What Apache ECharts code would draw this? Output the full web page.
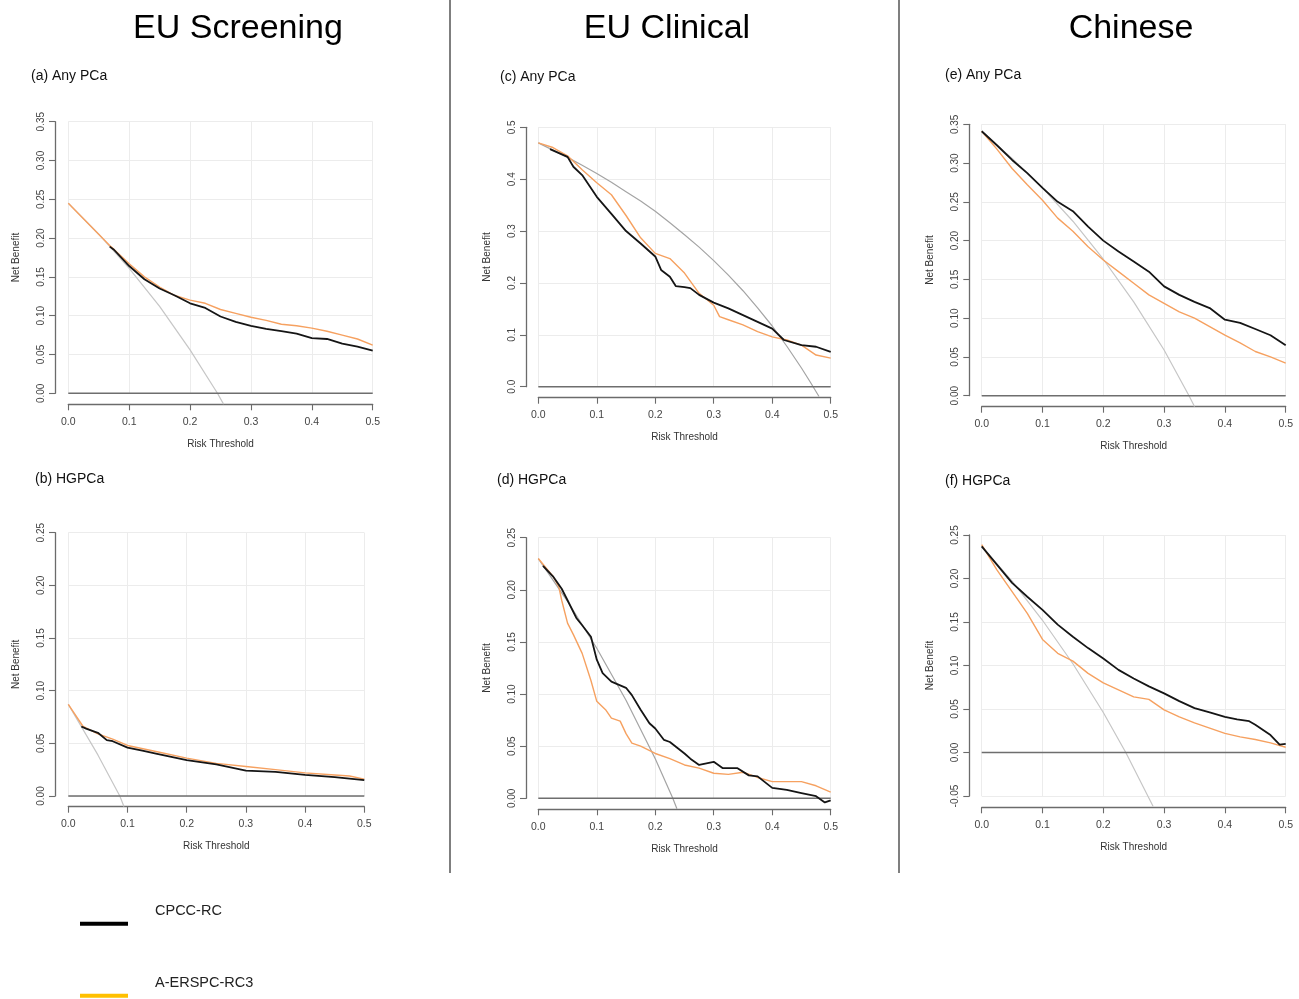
<!DOCTYPE html>
<html>
<head>
<meta charset="utf-8">
<script src="https://cdn.jsdelivr.net/npm/echarts@6/dist/echarts.min.js"></script>
<style>
html,body{margin:0;padding:0;background:#fff;}
#chart{width:1299px;height:999px;}
</style>
</head>
<body>
<div id="chart"></div>
<script>
// ---------------- DATA ----------------
const xTicks = [0, 0.1, 0.2, 0.3, 0.4, 0.5];
const yTicksA = [0, 0.05, 0.10, 0.15, 0.20, 0.25, 0.30, 0.35];
const yTicksB = [0, 0.05, 0.10, 0.15, 0.20, 0.25];
const yTicksC = [0, 0.1, 0.2, 0.3, 0.4, 0.5];
const yTicksD = [0, 0.05, 0.10, 0.15, 0.20, 0.25];
const yTicksE = [0, 0.05, 0.10, 0.15, 0.20, 0.25, 0.30, 0.35];
const yTicksF = [-0.05, 0, 0.05, 0.10, 0.15, 0.20, 0.25];

const columnTitles = ['EU Screening', 'EU Clinical', 'Chinese'];
const panelLabels = ['(a) Any PCa', '(b) HGPCa', '(c) Any PCa', '(d) HGPCa', '(e) Any PCa', '(f) HGPCa'];
const modelNames = ['CPCC-RC', 'A-ERSPC-RC3'];

// treat none (reference line)
const noneX = [0, 0.5];
const noneNB = [0, 0];

// (a) EU Screening, Any PCa
const aCpccX = [0.068,0.075,0.1,0.125,0.15,0.175,0.2,0.225,0.25,0.275,0.3,0.325,0.35,0.375,0.4,0.425,0.45,0.475,0.5];
const aCpccY = [0.189,0.185,0.164,0.147,0.135,0.126,0.116,0.110,0.099,0.092,0.087,0.083,0.080,0.077,0.071,0.070,0.064,0.060,0.055];
const aErsX = [0,0.07,0.1,0.125,0.15,0.175,0.2,0.225,0.25,0.275,0.3,0.325,0.35,0.375,0.4,0.425,0.45,0.475,0.5];
const aErsY = [0.245,0.189,0.167,0.150,0.137,0.126,0.120,0.116,0.108,0.103,0.098,0.094,0.089,0.087,0.084,0.080,0.075,0.070,0.062];
const aAllX = [0,0.05,0.1,0.15,0.2,0.245,0.255];
const aAllY = [0.245,0.205,0.161,0.112,0.056,0,-0.014];

// (b) EU Screening, HGPCa
const bCpccX = [0.022,0.03,0.05,0.065,0.075,0.1,0.125,0.15,0.2,0.25,0.3,0.35,0.4,0.45,0.5];
const bCpccY = [0.066,0.064,0.060,0.053,0.052,0.046,0.043,0.040,0.034,0.030,0.024,0.023,0.020,0.018,0.015];
const bErsX = [0,0.025,0.05,0.075,0.1,0.15,0.2,0.25,0.3,0.35,0.4,0.45,0.475,0.5];
const bErsY = [0.087,0.066,0.059,0.054,0.048,0.042,0.036,0.031,0.028,0.025,0.022,0.020,0.019,0.016];
const bAllX = [0,0.05,0.087,0.094];
const bAllY = [0.087,0.039,0,-0.010];

// (c) EU Clinical, Any PCa
const cCpccX = [0.02,0.05,0.06,0.075,0.1,0.125,0.15,0.175,0.2,0.21,0.225,0.235,0.25,0.26,0.275,0.3,0.325,0.35,0.375,0.4,0.42,0.45,0.475,0.5];
const cCpccY = [0.458,0.443,0.424,0.408,0.366,0.333,0.300,0.276,0.251,0.225,0.212,0.194,0.192,0.190,0.177,0.162,0.151,0.138,0.125,0.112,0.090,0.080,0.077,0.067];
const cErsX = [0,0.025,0.05,0.075,0.1,0.125,0.15,0.175,0.2,0.225,0.25,0.275,0.3,0.31,0.325,0.35,0.375,0.4,0.425,0.45,0.475,0.5];
const cErsY = [0.470,0.461,0.445,0.418,0.393,0.370,0.330,0.287,0.257,0.247,0.219,0.180,0.157,0.135,0.129,0.119,0.106,0.096,0.090,0.080,0.061,0.055];
const cAllX = [0,0.025,0.05,0.075,0.1,0.125,0.15,0.175,0.2,0.225,0.25,0.275,0.3,0.325,0.35,0.375,0.4,0.425,0.45,0.465,0.48];
const cAllY = [0.470,0.456,0.442,0.427,0.411,0.394,0.376,0.358,0.338,0.316,0.293,0.269,0.243,0.215,0.185,0.152,0.117,0.078,0.036,0.009,-0.019];

// (d) EU Clinical, HGPCa
const dCpccX = [0.008,0.025,0.04,0.05,0.065,0.075,0.09,0.1,0.11,0.125,0.15,0.16,0.175,0.19,0.2,0.215,0.225,0.25,0.26,0.275,0.3,0.315,0.34,0.36,0.375,0.4,0.425,0.45,0.475,0.49,0.5];
const dCpccY = [0.223,0.213,0.201,0.190,0.173,0.166,0.155,0.133,0.120,0.112,0.106,0.099,0.085,0.072,0.067,0.056,0.054,0.043,0.038,0.032,0.035,0.029,0.029,0.022,0.021,0.010,0.008,0.005,0.002,-0.004,-0.002];
const dErsX = [0,0.025,0.035,0.04,0.05,0.06,0.075,0.09,0.1,0.115,0.125,0.14,0.15,0.16,0.175,0.2,0.225,0.25,0.275,0.3,0.325,0.35,0.375,0.4,0.425,0.45,0.475,0.5];
const dErsY = [0.230,0.213,0.203,0.190,0.168,0.157,0.139,0.113,0.093,0.085,0.077,0.074,0.062,0.053,0.050,0.043,0.038,0.032,0.029,0.024,0.023,0.025,0.020,0.016,0.016,0.016,0.012,0.006];
const dAllX = [0,0.05,0.1,0.15,0.2,0.23,0.237];
const dAllY = [0.230,0.189,0.144,0.094,0.038,0,-0.010];

// (e) Chinese, Any PCa
const eCpccX = [0,0.025,0.05,0.075,0.1,0.125,0.15,0.175,0.2,0.225,0.25,0.275,0.3,0.325,0.35,0.375,0.4,0.425,0.45,0.475,0.5];
const eCpccY = [0.341,0.323,0.304,0.287,0.268,0.250,0.238,0.218,0.200,0.186,0.173,0.160,0.141,0.130,0.121,0.113,0.098,0.094,0.086,0.078,0.065];
const eErsX = [0,0.025,0.05,0.075,0.1,0.125,0.15,0.175,0.2,0.225,0.25,0.275,0.3,0.325,0.35,0.375,0.4,0.425,0.45,0.475,0.5];
const eErsY = [0.341,0.318,0.293,0.272,0.252,0.229,0.212,0.192,0.175,0.160,0.145,0.130,0.119,0.108,0.100,0.089,0.078,0.068,0.057,0.050,0.042];
const eAllX = [0,0.05,0.1,0.15,0.2,0.25,0.3,0.341,0.35];
const eAllY = [0.341,0.306,0.268,0.225,0.176,0.121,0.059,0,-0.014];

// (f) Chinese, HGPCa
const fCpccX = [0,0.025,0.05,0.075,0.1,0.125,0.15,0.175,0.2,0.225,0.25,0.275,0.3,0.325,0.35,0.375,0.4,0.42,0.44,0.45,0.475,0.49,0.5];
const fCpccY = [0.237,0.216,0.195,0.179,0.164,0.147,0.133,0.120,0.108,0.095,0.085,0.076,0.068,0.059,0.051,0.046,0.041,0.038,0.036,0.032,0.020,0.009,0.010];
const fErsX = [0,0.025,0.05,0.075,0.1,0.125,0.15,0.175,0.2,0.225,0.25,0.275,0.3,0.325,0.35,0.375,0.4,0.425,0.45,0.475,0.5];
const fErsY = [0.239,0.210,0.185,0.160,0.130,0.114,0.105,0.091,0.080,0.072,0.064,0.061,0.049,0.041,0.034,0.028,0.022,0.018,0.015,0.011,0.006];
const fAllX = [0,0.05,0.1,0.15,0.2,0.237,0.282];
const fAllY = [0.237,0.197,0.152,0.102,0.046,0,-0.062];

// ---------------- LAYOUT / STYLE ----------------
const FONT = "'Liberation Sans', Arial, sans-serif";
const panels = [
  {yTicks:yTicksA, dec:2, cx:aCpccX, cy:aCpccY, ex:aErsX, ey:aErsY, gx:aAllX, gy:aAllY, gray:'#c6c6c6',
   box:{l:68.3,t:121.7,r:372.7,b:393.3}, xOff:11, yOff:13.3},
  {yTicks:yTicksB, dec:2, cx:bCpccX, cy:bCpccY, ex:bErsX, ey:bErsY, gx:bAllX, gy:bAllY, gray:'#c6c6c6',
   box:{l:68.3,t:532.7,r:364.3,b:796}, xOff:10.7, yOff:13.3},
  {yTicks:yTicksC, dec:1, cx:cCpccX, cy:cCpccY, ex:cErsX, ey:cErsY, gx:cAllX, gy:cAllY, gray:'#a4a4a4',
   box:{l:538.3,t:127.3,r:830.7,b:386.7}, xOff:11, yOff:12.3},
  {yTicks:yTicksD, dec:2, cx:dCpccX, cy:dCpccY, ex:dErsX, ey:dErsY, gx:dAllX, gy:dAllY, gray:'#a4a4a4',
   box:{l:538.3,t:537.7,r:830.7,b:798.3}, xOff:11, yOff:12.3},
  {yTicks:yTicksE, dec:2, cx:eCpccX, cy:eCpccY, ex:eErsX, ey:eErsY, gx:eAllX, gy:eAllY, gray:'#c6c6c6',
   box:{l:981.7,t:124.3,r:1285.7,b:395.7}, xOff:11, yOff:12.4},
  {yTicks:yTicksF, dec:2, cx:fCpccX, cy:fCpccY, ex:fErsX, ey:fErsY, gx:fAllX, gy:fAllY, gray:'#c6c6c6',
   box:{l:981.7,t:535,r:1285.7,b:796}, xOff:11.3, yOff:12.4}
];

const zip = (xs, ys) => xs.map((x, i) => [x, ys[i]]);
const axisColor = '#6b6b6b';

const grids = [], xAxes = [], yAxes = [], series = [];
panels.forEach((p, i) => {
  grids.push({left:p.box.l, top:p.box.t, width:p.box.r - p.box.l, height:p.box.b - p.box.t, containLabel:false});
  xAxes.push({
    type:'value', gridIndex:i, min:xTicks[0], max:xTicks[xTicks.length-1], interval:xTicks[1]-xTicks[0],
    offset:p.xOff, name:'Risk Threshold', nameLocation:'middle', nameGap:35,
    nameTextStyle:{fontFamily:FONT, fontSize:10, color:'#333'},
    axisLine:{show:true, onZero:false, lineStyle:{color:axisColor, width:1.3}},
    axisTick:{show:true, length:6, lineStyle:{color:axisColor, width:1.1}},
    axisLabel:{fontFamily:FONT, fontSize:10.5, color:'#444', margin:12, formatter:v => v.toFixed(1)},
    splitLine:{show:true, lineStyle:{color:'#ececec', width:1}}
  });
  const yt = p.yTicks;
  yAxes.push({
    type:'value', gridIndex:i, min:yt[0], max:yt[yt.length-1], interval:+(yt[1]-yt[0]).toFixed(4),
    offset:p.yOff, name:'Net Benefit', nameLocation:'middle', nameGap:34,
    nameTextStyle:{fontFamily:FONT, fontSize:10, color:'#333'},
    axisLine:{show:true, onZero:false, lineStyle:{color:axisColor, width:1.3}},
    axisTick:{show:true, length:6, lineStyle:{color:axisColor, width:1.1}},
    axisLabel:{fontFamily:FONT, fontSize:10, color:'#444', margin:9, rotate:90, formatter:v => v.toFixed(p.dec)},
    splitLine:{show:true, lineStyle:{color:'#ececec', width:1}}
  });
  const common = {type:'line', xAxisIndex:i, yAxisIndex:i, showSymbol:false, symbol:'none', clip:false, animation:false, silent:true};
  series.push(Object.assign({}, common, {name:'Treat all', data:zip(p.gx, p.gy), lineStyle:{color:p.gray, width:1.2}, z:2}));
  series.push(Object.assign({}, common, {name:'Treat none', data:zip(noneX, noneNB), lineStyle:{color:'#6e6e6e', width:1.6}, z:3}));
  series.push(Object.assign({}, common, {name:modelNames[1], data:zip(p.ex, p.ey), lineStyle:{color:'#F6A160', width:1.4}, itemStyle:{color:'#FFC000'}, z:4}));
  series.push(Object.assign({}, common, {name:modelNames[0], data:zip(p.cx, p.cy), lineStyle:{color:'#151515', width:1.8}, itemStyle:{color:'#000'}, z:5}));
});

const graphics = [
  {type:'line', shape:{x1:450, y1:0, x2:450, y2:873}, style:{stroke:'#555', lineWidth:1.5}},
  {type:'line', shape:{x1:899, y1:0, x2:899, y2:873}, style:{stroke:'#555', lineWidth:1.5}}
];
const titleCenters = [238, 667, 1131];
columnTitles.forEach((t, i) => {
  graphics.push({type:'text', x:titleCenters[i], y:29, style:{text:t, font:'34px ' + FONT, fill:'#000', align:'center', verticalAlign:'middle'}});
});
const subPos = [[31,76],[35,479],[500,77],[497,480],[945,75],[945,481]];
panelLabels.forEach((t, i) => {
  graphics.push({type:'text', x:subPos[i][0], y:subPos[i][1], style:{text:t, font:'14px ' + FONT, fill:'#111', align:'left', verticalAlign:'middle'}});
});

const legendColors = ['#000', '#FFC000'];
const legendTops = [903.3, 975.3];
const legends = modelNames.map((nm, i) => ({
  show:true, orient:'vertical', left:80, top:legendTops[i], padding:0, itemWidth:48, itemHeight:4, icon:'rect',
  selectedMode:false,
  data:[{name:nm, itemStyle:{color:legendColors[i]}}],
  formatter: name => '{t|' + name + '}\n{s| }',
  textStyle:{
    fontFamily:FONT, fontSize:14.5, color:'#222',
    rich:{
      t:{fontFamily:FONT, fontSize:14.5, color:'#222', lineHeight:18, padding:[0,0,0,22]},
      s:{fontSize:10, lineHeight:26}
    }
  }
}));

const option = {
  backgroundColor:'#fff',
  animation:false,
  grid:grids, xAxis:xAxes, yAxis:yAxes, series:series,
  legend:legends,
  graphic:graphics
};

const chart = echarts.init(document.getElementById('chart'), null, {renderer:'canvas'});
chart.setOption(option);
</script>
</body>
</html>
